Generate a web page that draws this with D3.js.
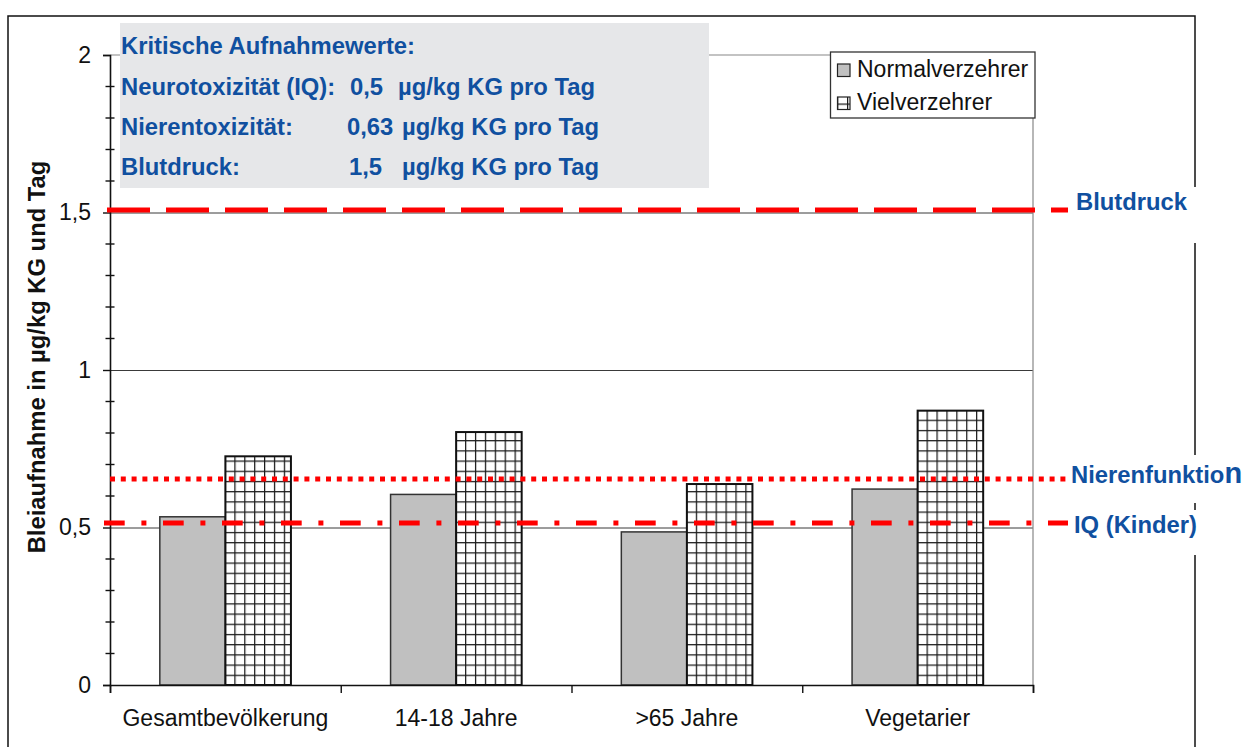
<!DOCTYPE html>
<html>
<head>
<meta charset="utf-8">
<script src="https://cdn.jsdelivr.net/npm/d3@7"></script>
<style>
  html, body { margin: 0; padding: 0; background: #fff; }
  svg { display: block; font-family: "Liberation Sans", Arial, sans-serif; }
</style>
</head>
<body>
<div id="chart"></div>
<script>
// data
const categories = ['Gesamtbevölkerung', '14-18 Jahre', '>65 Jahre', 'Vegetarier'];
const seriesNames = ['Normalverzehrer', 'Vielverzehrer'];
const normalValues = [0.534, 0.605, 0.486, 0.622];
const vielValues = [0.726, 0.803, 0.638, 0.871];
const yTicks = [0, 0.5, 1, 1.5, 2];
const yMinorStep = 0.1;

// critical intake lines (as drawn)
const limitNames = ['Blutdruck', 'Nierenfunktion', 'IQ (Kinder)'];
const limitValues = [1.508, 0.654, 0.514];

const infoTitle = 'Kritische Aufnahmewerte:';
const infoLabels = ['Neurotoxizität (IQ):', 'Nierentoxizität:', 'Blutdruck:'];
const infoValues = ['0,5', '0,63', '1,5'];
const infoUnit = 'µg/kg KG pro Tag';

const yLabel = 'Bleiaufnahme in µg/kg KG und Tag';

const width = 1243, height = 747;
const margin = { top: 55, right: 210, bottom: 62, left: 110 };
const blue = '#1050a0';
const red = '#ff0000';

const svg = d3.select('#chart').append('svg')
  .attr('width', width)
  .attr('height', height);

const defs = svg.append('defs');
const pat = defs.append('pattern')
  .attr('id', 'grid')
  .attr('patternUnits', 'userSpaceOnUse')
  .attr('width', 9.9)
  .attr('height', 10.2)
  .attr('x', 5.5)
  .attr('y', 1.5);
pat.append('rect').attr('width', 9.9).attr('height', 10.2).attr('fill', '#fff');
pat.append('line').attr('x1', 0.6).attr('x2', 0.6).attr('y1', 0).attr('y2', 10.2)
  .attr('stroke', '#1a1a1a').attr('stroke-width', 1.3);
pat.append('line').attr('x1', 0).attr('x2', 9.9).attr('y1', 0.6).attr('y2', 0.6)
  .attr('stroke', '#1a1a1a').attr('stroke-width', 1.3);

// outer frame
svg.append('rect')
  .attr('x', 8).attr('y', 16)
  .attr('width', 1187).attr('height', 760)
  .attr('fill', 'none')
  .attr('stroke', '#111')
  .attr('stroke-width', 1.5);

const x0 = d3.scaleBand()
  .domain(categories)
  .range([margin.left, width - margin.right])
  .padding(0);

const x1 = d3.scaleBand()
  .domain(seriesNames)
  .range([0, x0.bandwidth()])
  .paddingInner(0)
  .paddingOuter(0.76);

const y = d3.scaleLinear()
  .domain([0, 2])
  .range([height - margin.bottom, margin.top]);

const fmt = d3.formatLocale({ decimal: ',', thousands: '.', grouping: [3], currency: ['', '€'] }).format('~g');

const x0r = x0.range()[0], x1r = x0.range()[1];

// gridlines
svg.append('g')
  .selectAll('line')
  .data(yTicks.filter(d => d > 0 && d < 2))
  .join('line')
  .attr('x1', x0r).attr('x2', x1r)
  .attr('y1', d => y(d) + 0.5).attr('y2', d => y(d) + 0.5)
  .attr('stroke', '#3a3a3a')
  .attr('stroke-width', 1);

// plot area top / right border
svg.append('path')
  .attr('d', `M${x0r},${y(2)}H${x1r}V${y(0)}`)
  .attr('fill', 'none')
  .attr('stroke', '#888')
  .attr('stroke-width', 1.2);

// bars
const groups = svg.append('g')
  .selectAll('g')
  .data(categories)
  .join('g')
  .attr('transform', d => `translate(${x0(d)},0)`);

groups.append('rect')
  .attr('x', x1('Normalverzehrer'))
  .attr('width', x1.bandwidth())
  .attr('y', (d, i) => y(normalValues[i]))
  .attr('height', (d, i) => y(0) - y(normalValues[i]))
  .attr('fill', '#c0c0c0')
  .attr('stroke', '#333')
  .attr('stroke-width', 1.5);

groups.append('rect')
  .attr('x', x1('Vielverzehrer'))
  .attr('width', x1.bandwidth())
  .attr('y', (d, i) => y(vielValues[i]))
  .attr('height', (d, i) => y(0) - y(vielValues[i]))
  .attr('fill', 'url(#grid)')
  .attr('stroke', '#111')
  .attr('stroke-width', 2);

// y axis
const yAxis = svg.append('g')
  .attr('transform', `translate(${x0r},0)`)
  .call(d3.axisLeft(y).tickValues(yTicks).tickSize(7).tickPadding(12).tickFormat(fmt));
yAxis.select('.domain').attr('stroke', '#111').attr('stroke-width', 1.6);
yAxis.selectAll('.tick line').attr('stroke', '#111').attr('stroke-width', 1.4);
yAxis.selectAll('.tick text')
  .attr('font-size', 23)
  .attr('fill', '#111')
  .attr('font-family', '"Liberation Sans", Arial, sans-serif');

svg.append('g')
  .selectAll('line')
  .data(d3.range(0, 2.0001, yMinorStep).filter(v => Math.abs(v * 2 - Math.round(v * 2)) > 1e-6))
  .join('line')
  .attr('x1', x0r - 4.5).attr('x2', x0r + 4.5)
  .attr('y1', d => y(d)).attr('y2', d => y(d))
  .attr('stroke', '#111')
  .attr('stroke-width', 1.4);

// x axis: boundary ticks + centred labels
const xEdge = d3.scaleLinear().domain([0, categories.length]).range(x0.range());
const xAxis = svg.append('g')
  .attr('transform', `translate(0,${y(0)})`)
  .call(d3.axisBottom(xEdge).ticks(categories.length).tickSize(8).tickFormat(''));
xAxis.select('.domain').attr('stroke', '#111').attr('stroke-width', 1.6);
xAxis.selectAll('.tick line').attr('stroke', '#111').attr('stroke-width', 1.4);

svg.append('g')
  .selectAll('text')
  .data(categories)
  .join('text')
  .attr('x', d => x0(d) + x0.bandwidth() / 2)
  .attr('y', 726)
  .attr('text-anchor', 'middle')
  .attr('font-size', 23)
  .attr('fill', '#111')
  .text(d => d);

// y label
svg.append('text')
  .attr('transform', 'translate(45,357) rotate(-90)')
  .attr('text-anchor', 'middle')
  .attr('font-size', 23.8)
  .attr('font-weight', 'bold')
  .attr('fill', '#111')
  .text(yLabel);

// info box
svg.append('rect')
  .attr('x', 120).attr('y', 23)
  .attr('width', 589).attr('height', 165)
  .attr('fill', '#e6e7e9');

const info = svg.append('g')
  .attr('font-size', 23.8)
  .attr('font-weight', 'bold')
  .attr('fill', blue);
info.append('text').attr('x', 121).attr('y', 54).text(infoTitle);
const unitX = [398, 402, 402];
const valX = [350, 347, 349];
infoLabels.forEach((lab, i) => {
  const by = 94.5 + i * 40.3;
  info.append('text').attr('x', 121).attr('y', by).text(lab);
  info.append('text').attr('x', valX[i]).attr('y', by).text(infoValues[i]);
  info.append('text').attr('x', unitX[i]).attr('y', by).text(infoUnit);
});

// legend
const legend = svg.append('g');
legend.append('rect')
  .attr('x', 830.5).attr('y', 52)
  .attr('width', 204.5).attr('height', 66)
  .attr('fill', '#fff')
  .attr('stroke', '#333')
  .attr('stroke-width', 1.3);
const legFill = ['#c0c0c0', 'url(#grid)'];
seriesNames.forEach((name, i) => {
  const ly = 64 + i * 33;
  legend.append('rect')
    .attr('x', 837.5).attr('y', ly)
    .attr('width', 12.5).attr('height', 12.5)
    .attr('fill', legFill[i])
    .attr('stroke', '#222')
    .attr('stroke-width', 1.2);
  legend.append('text')
    .attr('x', 857).attr('y', ly + 13)
    .attr('font-size', 23)
    .attr('fill', '#111')
    .text(name);
});

// limit lines
const dashes = ['43,16', '5,5.8', '20.7,16.7,5,16.6'];
const lineStart = [107, 110, 104];
const lineEnd = 1068;

// white gaps in frame behind the labels
const gapBoxes = [[187, 243], [455, 503], [510, 555]];
svg.append('g')
  .selectAll('rect')
  .data(gapBoxes)
  .join('rect')
  .attr('x', 1070).attr('width', 173)
  .attr('y', d => d[0]).attr('height', d => d[1] - d[0])
  .attr('fill', '#fff');

svg.append('g')
  .selectAll('line')
  .data(limitValues)
  .join('line')
  .attr('x1', (d, i) => lineStart[i])
  .attr('x2', lineEnd)
  .attr('y1', d => y(d)).attr('y2', d => y(d))
  .attr('stroke', red)
  .attr('stroke-width', 5)
  .attr('stroke-dasharray', (d, i) => dashes[i]);

const labelX = [1076, 1071, 1074];
const labelDy = [0.5, 4, 10];
const lab = svg.append('g')
  .attr('font-size', 23.8)
  .attr('font-weight', 'bold')
  .attr('fill', blue);
limitNames.forEach((name, i) => {
  const t = lab.append('text')
    .attr('x', labelX[i])
    .attr('y', y(limitValues[i]) + labelDy[i]);
  if (name === 'Nierenfunktion') {
    t.append('tspan').text(name.slice(0, -1));
    t.append('tspan').attr('font-size', 29).text(name.slice(-1));
  } else {
    t.text(name);
  }
});
</script>
</body>
</html>
